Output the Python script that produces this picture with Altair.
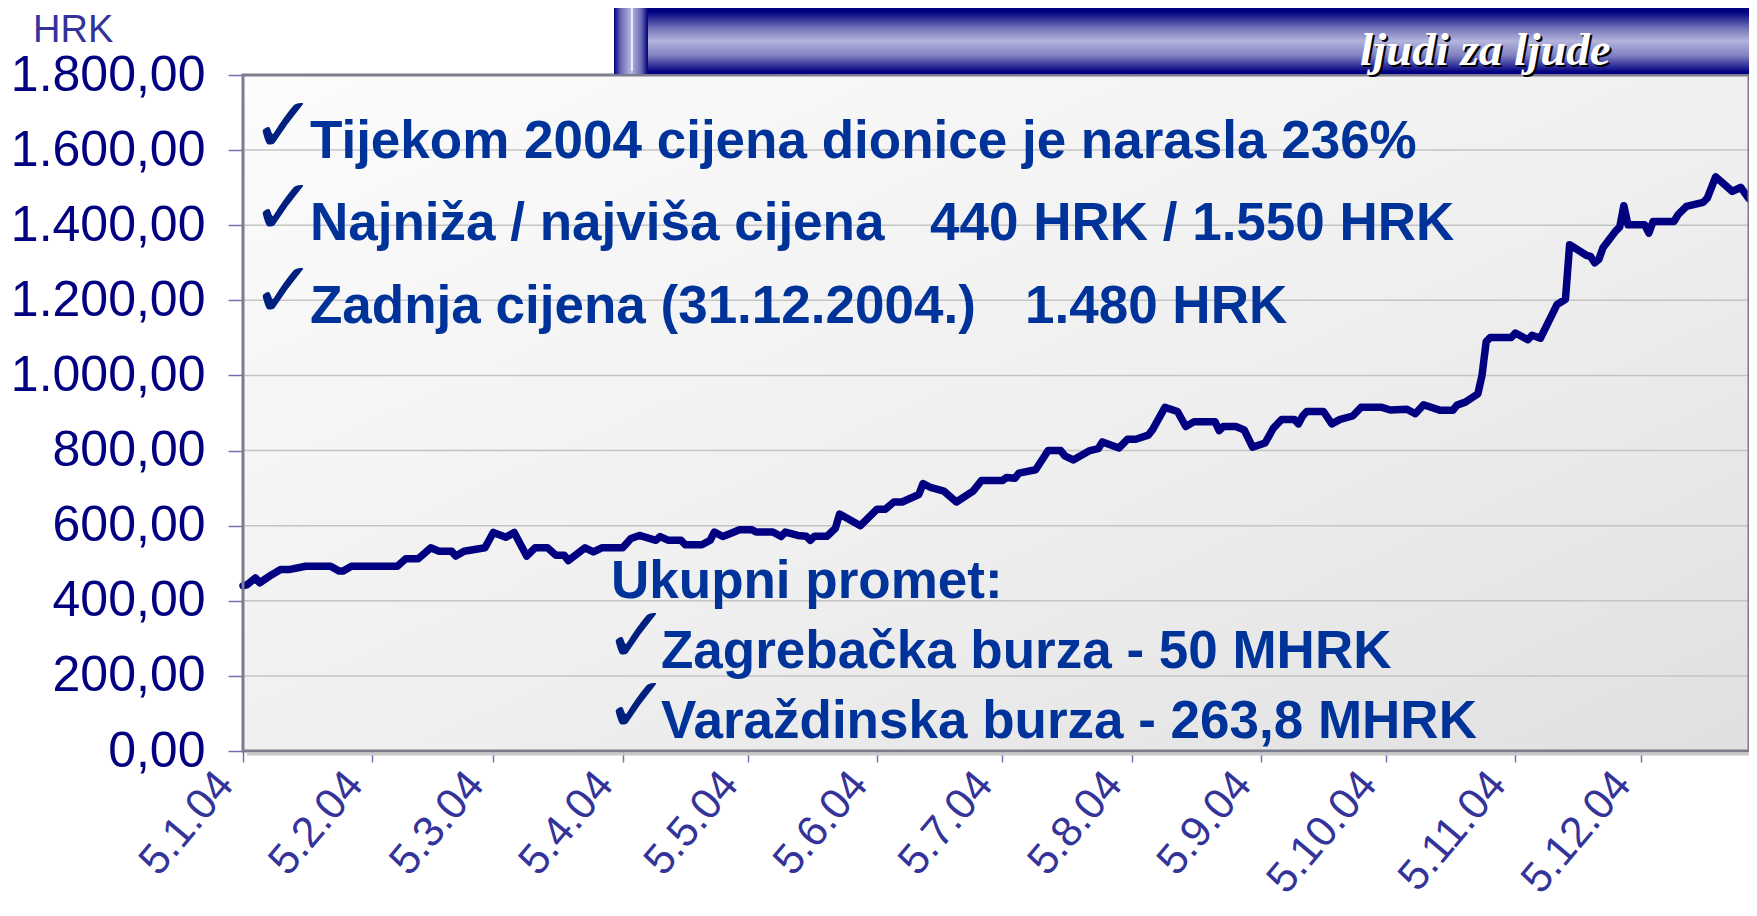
import altair as alt
import pandas as pd

# ---------------- data ----------------
dates = [
    "2004-01-05", "2004-01-06", "2004-01-08", "2004-01-09", "2004-01-12", "2004-01-14",
    "2004-01-16", "2004-01-20", "2004-01-26", "2004-01-28", "2004-01-29", "2004-01-31",
    "2004-02-11", "2004-02-13", "2004-02-16", "2004-02-19", "2004-02-21", "2004-02-24",
    "2004-02-25", "2004-02-27", "2004-03-03", "2004-03-05", "2004-03-08", "2004-03-10",
    "2004-03-13", "2004-03-15", "2004-03-18", "2004-03-20", "2004-03-22", "2004-03-23",
    "2004-03-27", "2004-03-29", "2004-03-31", "2004-04-05", "2004-04-07", "2004-04-09",
    "2004-04-13", "2004-04-14", "2004-04-16", "2004-04-19", "2004-04-20", "2004-04-24",
    "2004-04-26", "2004-04-27", "2004-04-29", "2004-05-01", "2004-05-03", "2004-05-06",
    "2004-05-07", "2004-05-11", "2004-05-13", "2004-05-14", "2004-05-17", "2004-05-19",
    "2004-05-20", "2004-05-21", "2004-05-24", "2004-05-26", "2004-05-27", "2004-06-01",
    "2004-06-05", "2004-06-07", "2004-06-09", "2004-06-11", "2004-06-15", "2004-06-16",
    "2004-06-18", "2004-06-21", "2004-06-24", "2004-06-28", "2004-06-30", "2004-07-05",
    "2004-07-06", "2004-07-08", "2004-07-09", "2004-07-13", "2004-07-16", "2004-07-19",
    "2004-07-20", "2004-07-22", "2004-07-26", "2004-07-28", "2004-07-29", "2004-08-02",
    "2004-08-04", "2004-08-06", "2004-08-09", "2004-08-10", "2004-08-13", "2004-08-16",
    "2004-08-18", "2004-08-20", "2004-08-25", "2004-08-26", "2004-08-27", "2004-08-30",
    "2004-09-01", "2004-09-03", "2004-09-06", "2004-09-08", "2004-09-10", "2004-09-13",
    "2004-09-14", "2004-09-15", "2004-09-16", "2004-09-20", "2004-09-22", "2004-09-24",
    "2004-09-27", "2004-09-29", "2004-10-04", "2004-10-06", "2004-10-10", "2004-10-12",
    "2004-10-14", "2004-10-18", "2004-10-21", "2004-10-22", "2004-10-24", "2004-10-27",
    "2004-10-28", "2004-10-29", "2004-10-30", "2004-11-04", "2004-11-05", "2004-11-08",
    "2004-11-09", "2004-11-11", "2004-11-15", "2004-11-17", "2004-11-18", "2004-11-22",
    "2004-11-23", "2004-11-24", "2004-11-25", "2004-11-26", "2004-11-29", "2004-11-30",
    "2004-12-01", "2004-12-02", "2004-12-06", "2004-12-07", "2004-12-08", "2004-12-13",
    "2004-12-14", "2004-12-16", "2004-12-20", "2004-12-21", "2004-12-23", "2004-12-27",
    "2004-12-29", "2004-12-31",
]
prices = [
    440, 443, 461, 448, 470, 483,
    483, 492, 492, 479, 479, 492,
    492, 512, 512, 541, 532, 532,
    519, 532, 541, 582, 569, 582,
    519, 541, 541, 521, 521, 507,
    541, 530, 541, 541, 566, 574,
    561, 571, 561, 561, 549, 549,
    561, 583, 571, 580, 589, 589,
    583, 583, 571, 583, 574, 572,
    561, 572, 572, 593, 631, 600,
    644, 644, 663, 663, 683, 712,
    701, 692, 663, 692, 720, 720,
    728, 726, 740, 749, 800, 800,
    786, 775, 800, 805, 823, 807,
    830, 830, 841, 855, 915, 904,
    864, 877, 877, 853, 864, 864,
    855, 809, 820, 860, 883, 883,
    871, 892, 904, 904, 871, 883,
    892, 915, 915, 908, 910, 898,
    922, 907, 907, 921, 929, 951,
    1000, 1090, 1101, 1101, 1113, 1095,
    1107, 1099, 1189, 1203, 1348, 1320,
    1317, 1300, 1309, 1340, 1384, 1395,
    1452, 1401, 1401, 1379, 1410, 1410,
    1428, 1450, 1461, 1472, 1529, 1490,
    1501, 1470,
]
y_ticks = [0, 200, 400, 600, 800, 1000, 1200, 1400, 1600, 1800]
grid_values = [200, 400, 600, 800, 1000, 1200, 1400, 1600, 1800]
x_tick_dates = [
    "2004-01-05", "2004-02-05", "2004-03-05", "2004-04-05", "2004-05-05", "2004-06-05",
    "2004-07-05", "2004-08-05", "2004-09-05", "2004-10-05", "2004-11-05", "2004-12-05",
]
x_domain = ["2004-01-05", "2004-12-31"]

unit_label = "HRK"
banner_text = "ljudi za ljude"
top_lines = [
    "Tijekom 2004 cijena dionice je narasla 236%",
    "Najniža / najviša cijena",
    "Zadnja cijena (31.12.2004.)",
]
top_values = ["", "440 HRK / 1.550 HRK", "1.480 HRK"]
promet_title = "Ukupni promet:"
promet_lines = ["Zagrebačka burza - 50 MHRK", "Varaždinska burza - 263,8 MHRK"]
CHECK = "\u2713"

# ---------------- layout ----------------
W, H = 1506, 676
FONT = "Liberation Sans"
TXT = "#003399"
CHK = "#00207f"
NAVY = "#000080"


def dt(s):
    y, m, d = (int(v) for v in s.split("-"))
    return alt.DateTime(year=y, month=m, date=d, utc=True)


one = alt.Data(values=[{}])
df = pd.DataFrame({"date": dates, "price": prices})
yscale = alt.Scale(domain=[0, 1800], nice=False, zero=True)
xscale = alt.Scale(type="utc", domain=[dt(x_domain[0]), dt(x_domain[1])])

y_axis = alt.Axis(
    values=y_ticks,
    labelExpr="replace(replace(replace(format(datum.value, ',.2f'), ',', 'X'), '.', ','), 'X', '.')",
    labelFont=FONT, labelFontSize=50, labelColor=NAVY, labelLimit=0,
    labelPadding=23, tickSize=15, tickColor="#7070b0", tickWidth=1.5,
    domain=False, grid=False, title=None,
)

bg = alt.Chart(one).mark_rect(
    color=alt.LinearGradient(
        gradient="linear", x1=0, y1=0, x2=1, y2=1,
        stops=[alt.GradientStop(color="#fcfcfc", offset=0),
               alt.GradientStop(color="#efefef", offset=0.55),
               alt.GradientStop(color="#e0e0e0", offset=1)],
    )
).encode(x=alt.value(0), x2=alt.value(W), y=alt.value(0), y2=alt.value(H))

grid = alt.Chart(pd.DataFrame({"g": grid_values})).mark_rule(
    color="#c4c4c4", strokeWidth=1.5
).encode(y=alt.Y("g:Q", scale=yscale, axis=y_axis, title=None))

line = alt.Chart(df).mark_line(
    color=NAVY, strokeWidth=7.5, strokeJoin="round", strokeCap="round"
).encode(
    x=alt.X("date:T", scale=xscale, title=None, axis=alt.Axis(
        values=[dt(s) for s in x_tick_dates],
        labelExpr="utcFormat(datum.value, '%-d.%-m.%y')",
        labelAngle=-50, labelAlign="right", labelBaseline="middle",
        labelFont=FONT, labelFontSize=43, labelColor="#333399", labelLimit=0,
        labelPadding=15, labelOffset=-18, labelOverlap=False, labelBound=False,
        labelFlush=False,
        tickSize=11, tickColor="#7070b0", tickWidth=1.5,
        domain=False, grid=False,
    )),
    y=alt.Y("price:Q", scale=yscale, title=None, axis=y_axis),
)

frame = alt.Chart(one).mark_rect(
    fillOpacity=0, stroke="#7c7c8c", strokeWidth=3
).encode(x=alt.value(0), x2=alt.value(W), y=alt.value(0), y2=alt.value(H))
shadow = alt.Chart(one).mark_rule(color="#c8c8c8", strokeWidth=3).encode(
    x=alt.value(4), x2=alt.value(W + 1), y=alt.value(H + 3)
)


def text(s, x, y, size=53, color=TXT, weight="bold", font=FONT, align="left", style="normal"):
    return alt.Chart(one).mark_text(
        font=font, fontSize=size, fontWeight=weight, color=color, align=align,
        baseline="alphabetic", fontStyle=style,
    ).encode(x=alt.value(x), y=alt.value(y), text=alt.value(s))


layers = [bg, grid, line, frame, shadow]

# unit label
layers.append(text(unit_label, -210, -33, size=38, color="#333399", weight="normal"))

# top annotations
top_y = [83, 165, 248]
val_x = [None, 687, 782]
for i, s in enumerate(top_lines):
    layers.append(text(CHECK, 8, top_y[i] - 6, size=78, color=CHK, weight="normal", font="DejaVu Sans"))
    layers.append(text(s, 67, top_y[i]))
    if top_values[i]:
        layers.append(text(top_values[i], val_x[i], top_y[i]))

# bottom annotations
layers.append(text(promet_title, 368, 523))
for s, yy in zip(promet_lines, [593, 663]):
    layers.append(text(CHECK, 361, yy - 6, size=78, color=CHK, weight="normal", font="DejaVu Sans"))
    layers.append(text(s, 418, yy))

# banner
banner = alt.Chart(one).mark_rect(
    color=alt.LinearGradient(
        gradient="linear", x1=0, y1=0, x2=0, y2=1,
        stops=[alt.GradientStop(color="#000080", offset=0),
               alt.GradientStop(color="#000080", offset=0.06),
               alt.GradientStop(color="#7070b8", offset=0.3),
               alt.GradientStop(color="#b4b4dc", offset=0.5),
               alt.GradientStop(color="#8080c0", offset=0.72),
               alt.GradientStop(color="#000080", offset=0.97),
               alt.GradientStop(color="#000080", offset=1)],
    )
).encode(x=alt.value(405), x2=alt.value(W), y=alt.value(-67), y2=alt.value(-1))
cap = alt.Chart(one).mark_rect(
    color=alt.LinearGradient(
        gradient="linear", x1=0, y1=0, x2=1, y2=0,
        stops=[alt.GradientStop(color="#000080", offset=0),
               alt.GradientStop(color="#6a6ab4", offset=0.2),
               alt.GradientStop(color="#b8b8e0", offset=0.5),
               alt.GradientStop(color="#6a6ab4", offset=0.8),
               alt.GradientStop(color="#000080", offset=1)],
    )
).encode(x=alt.value(371), x2=alt.value(405), y=alt.value(-67), y2=alt.value(-1))
cap_line = alt.Chart(one).mark_rule(color="white", strokeWidth=1.5).encode(
    x=alt.value(389), y=alt.value(-67), y2=alt.value(-4)
)
layers += [banner, cap, cap_line]
layers.append(text(banner_text, 1119, -8, size=47, color="black", weight="bold",
                   font="Liberation Serif", style="italic"))
layers.append(text(banner_text, 1117, -10, size=47, color="white", weight="bold",
                   font="Liberation Serif", style="italic"))

chart = alt.layer(*layers).properties(
    width=W, height=H,
    autosize=alt.AutoSizeParams(type="none"),
    padding={"left": 235, "top": 67, "right": 0, "bottom": 152},
).configure_view(stroke=None).configure(background="white")

chart.save("out.html", embed_options={"renderer": "svg", "actions": False})
